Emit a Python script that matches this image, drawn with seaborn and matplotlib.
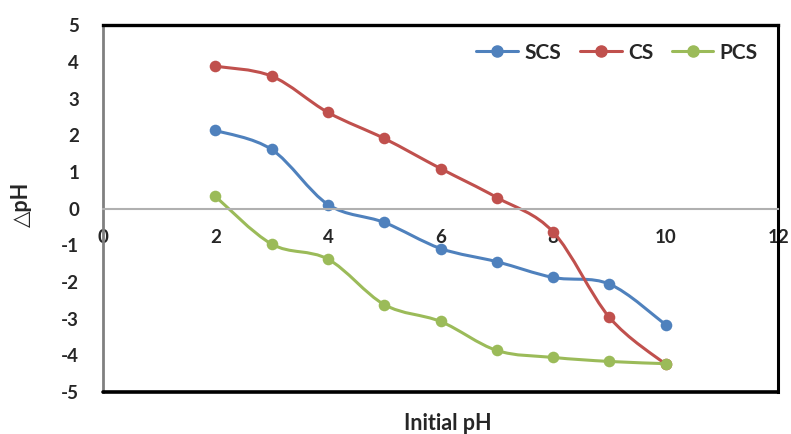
import numpy as np
import pandas as pd
import matplotlib.pyplot as plt
import seaborn as sns
from matplotlib.path import Path
from matplotlib.patches import PathPatch
from matplotlib.lines import Line2D

# values
initial_ph = [2, 3, 4, 5, 6, 7, 8, 9, 10]
scs = [2.13, 1.61, 0.11, -0.38, -1.09, -1.45, -1.88, -2.06, -3.17]
cs = [3.88, 3.61, 2.62, 1.91, 1.09, 0.30, -0.64, -2.97, -4.25]
pcs = [0.33, -0.97, -1.38, -2.62, -3.08, -3.87, -4.06, -4.17, -4.23]
series_names = ['SCS', 'CS', 'PCS']
colors = ['#4F81BD', '#C0504D', '#9BBB59']
x_ticks = [0, 2, 4, 6, 8, 10, 12]
y_ticks = [-5, -4, -3, -2, -1, 0, 1, 2, 3, 4, 5]

sns.set_style('white')
plt.rcParams['font.family'] = ['Lato', 'DejaVu Sans']
plt.rcParams['font.weight'] = 'bold'
plt.rcParams['axes.unicode_minus'] = False


def smooth_path(x, y):
    # Excel-style smoothed line: cubic Bezier segments through the points
    pts = np.column_stack([x, y]).astype(float)
    n = len(pts)
    verts = [pts[0]]
    codes = [Path.MOVETO]
    for i in range(n - 1):
        p0 = pts[max(i - 1, 0)]
        p1 = pts[i]
        p2 = pts[i + 1]
        p3 = pts[min(i + 2, n - 1)]
        verts += [p1 + (p2 - p0) / 6, p2 - (p3 - p1) / 6, p2]
        codes += [Path.CURVE4] * 3
    return Path(verts, codes)


fig, ax = plt.subplots(figsize=(7.91, 4.34), dpi=100)
fig.subplots_adjust(left=0.130, right=0.984, top=0.942, bottom=0.097)

for i, (name, vals) in enumerate(zip(series_names, [scs, cs, pcs])):
    ax.add_patch(PathPatch(smooth_path(initial_ph, vals), facecolor='none',
                           edgecolor=colors[i], lw=2.2, zorder=2 + i * 0.1))
    sns.scatterplot(x=initial_ph, y=vals, color=colors[i], s=70, linewidth=0,
                    ax=ax, zorder=2.05 + i * 0.1)

ax.set_xlim(0, 12)
ax.set_ylim(-5, 5)
ax.set_xticks(x_ticks)
ax.set_yticks(y_ticks)
ax.tick_params(axis='both', length=0, labelsize=13.5)
ax.tick_params(axis='x', pad=15)
ax.tick_params(axis='y', pad=17)

# x axis runs through zero, frame drawn round the plot
ax.spines['bottom'].set_position(('data', 0))
ax.spines['bottom'].set_color('#b0b0b0')
ax.spines['bottom'].set_linewidth(1.5)
ax.spines['left'].set_color('#808080')
ax.spines['left'].set_linewidth(2)
ax.spines['top'].set_color('black')
ax.spines['top'].set_linewidth(2.4)
ax.spines['right'].set_color('black')
ax.spines['right'].set_linewidth(2.2)
ax.axhline(-5, color='black', lw=2.6, clip_on=False, zorder=5)

ax.set_xlabel('Initial pH', fontsize=15.5, fontweight='bold')
ax.set_ylabel('△pH', fontsize=15.5, fontweight='bold')
ax.xaxis.set_label_coords(0.511, -0.058)
ax.yaxis.set_label_coords(-0.105, 0.51)

handles = [Line2D([], [], color=c, lw=2.2, marker='o', markersize=8) for c in colors]
ax.legend(handles, series_names, loc='upper right', bbox_to_anchor=(0.982, 0.975),
          ncol=3, frameon=False, handlelength=2.0,
          handletextpad=0.3, columnspacing=0.9, borderaxespad=0,
          prop={'weight': 'bold', 'size': 15})

fig.savefig('out.png', dpi=100)
